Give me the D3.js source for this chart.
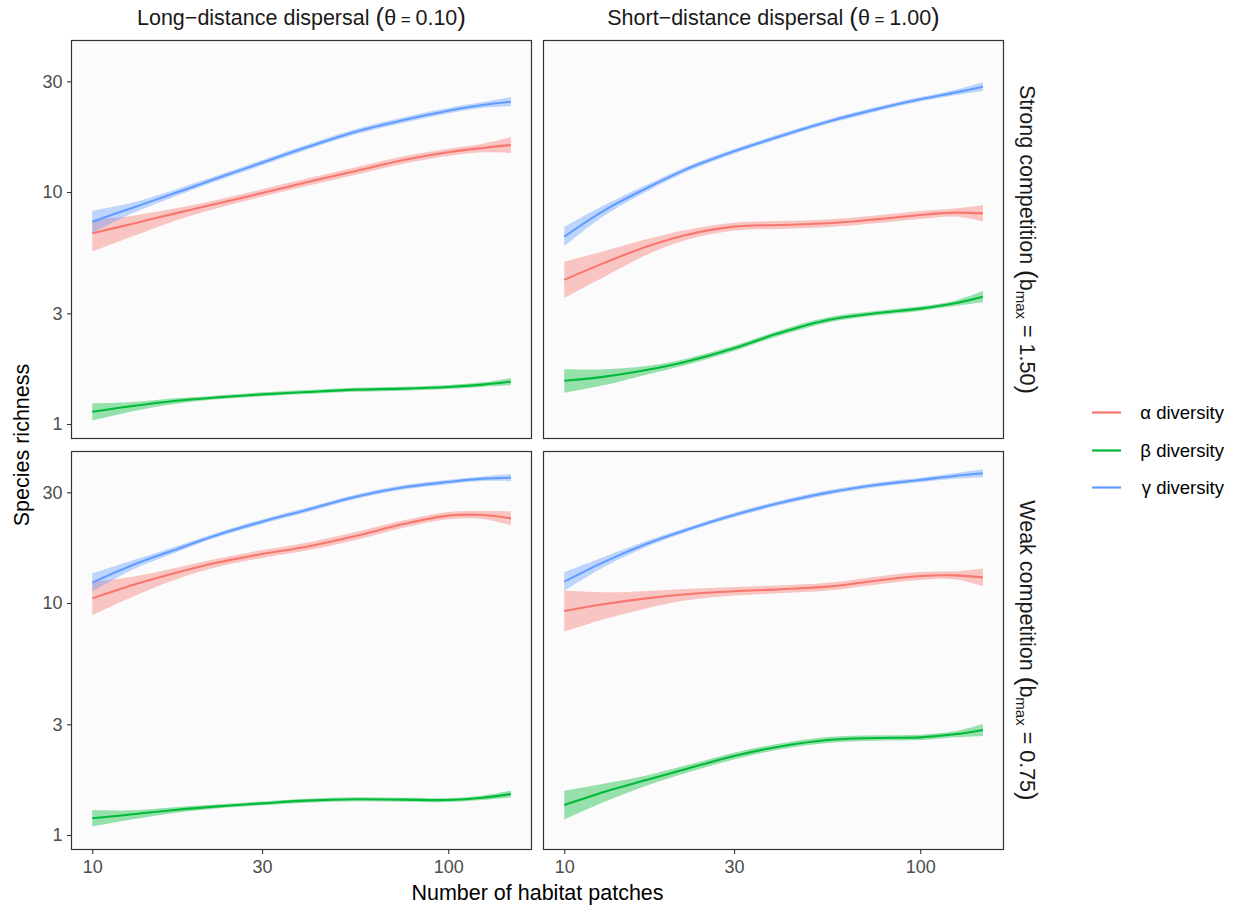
<!DOCTYPE html>
<html>
<head>
<meta charset="utf-8">
<script src="https://cdn.jsdelivr.net/npm/d3@7"></script>
<style>
  html, body { margin: 0; padding: 0; background: #ffffff; }
  svg { display: block; font-family: "Liberation Sans", Arial, Helvetica, sans-serif; }
</style>
</head>
<body>
<svg id="chart" width="1238" height="909"></svg>
<script>
// Number of habitat patches at which the smoothed curves are evaluated
const patches = [10, 13, 17, 22, 30, 40, 55, 75, 100, 125, 150];

// Axis ticks
const xTicks = [10, 30, 100];
const yTicks = [1, 3, 10, 30];

// Facet labels
const dispersalLabels = [
  { pre: "Long\u2212distance dispersal ", sym: "\u03b8", val: "0.10" },
  { pre: "Short\u2212distance dispersal ", sym: "\u03b8", val: "1.00" }
];
const competitionLabels = [
  { pre: "Strong competition ", val: "1.50" },
  { pre: "Weak competition ", val: "0.75" }
];

// Diversity components
const diversityNames = ["\u03b1 diversity", "\u03b2 diversity", "\u03b3 diversity"];
const diversityColors = ["#F8766D", "#00BA38", "#619CFF"];

// Long-distance dispersal, strong competition
const alpha_long_strong    = [6.64, 7.30, 8.07, 8.85, 9.90, 11.01, 12.32, 13.74, 14.83, 15.48, 15.94];
const alpha_long_strong_lo = [5.54, 6.44, 7.50, 8.45, 9.55, 10.62, 11.88, 13.25, 14.30, 14.83, 14.72];
const alpha_long_strong_hi = [7.58, 7.91, 8.48, 9.20, 10.27, 11.42, 12.78, 14.25, 15.38, 16.16, 17.26];
const beta_long_strong     = [1.130, 1.196, 1.256, 1.299, 1.342, 1.374, 1.406, 1.420, 1.444, 1.478, 1.522];
const beta_long_strong_lo  = [1.034, 1.135, 1.219, 1.274, 1.316, 1.347, 1.378, 1.392, 1.416, 1.445, 1.468];
const beta_long_strong_hi  = [1.227, 1.244, 1.290, 1.325, 1.369, 1.401, 1.434, 1.448, 1.473, 1.512, 1.578];
const gamma_long_strong    = [7.45, 8.56, 9.87, 11.34, 13.38, 15.58, 18.20, 20.43, 22.41, 23.71, 24.51];
const gamma_long_strong_lo = [6.68, 8.12, 9.55, 11.04, 13.03, 15.17, 17.72, 19.89, 21.82, 23.02, 23.41];
const gamma_long_strong_hi = [8.31, 9.02, 10.21, 11.65, 13.74, 16.00, 18.69, 20.98, 23.01, 24.42, 25.66];

// Short-distance dispersal, strong competition
const alpha_short_strong    = [4.18, 4.96, 5.81, 6.53, 7.09, 7.21, 7.33, 7.62, 7.96, 8.15, 8.09];
const alpha_short_strong_lo = [3.49, 4.32, 5.35, 6.21, 6.82, 6.93, 7.05, 7.33, 7.65, 7.84, 7.47];
const alpha_short_strong_hi = [5.01, 5.57, 6.25, 6.86, 7.37, 7.50, 7.62, 7.92, 8.28, 8.48, 8.76];
const beta_short_strong     = [1.537, 1.600, 1.709, 1.856, 2.120, 2.459, 2.808, 3.000, 3.143, 3.312, 3.539];
const beta_short_strong_lo  = [1.364, 1.473, 1.632, 1.795, 2.064, 2.394, 2.734, 2.933, 3.072, 3.225, 3.345];
const beta_short_strong_hi  = [1.720, 1.722, 1.777, 1.912, 2.177, 2.525, 2.884, 3.069, 3.215, 3.401, 3.744];
const gamma_short_strong    = [6.42, 8.36, 10.37, 12.52, 14.97, 17.32, 20.10, 22.71, 25.09, 26.81, 28.45];
const gamma_short_strong_lo = [5.83, 7.93, 10.03, 12.19, 14.63, 16.93, 19.65, 22.20, 24.53, 26.11, 27.25];
const gamma_short_strong_hi = [7.07, 8.81, 10.72, 12.86, 15.31, 17.72, 20.56, 23.23, 25.67, 27.53, 29.70];

// Long-distance dispersal, weak competition
const alpha_long_weak    = [10.47, 11.96, 13.43, 14.83, 16.26, 17.49, 19.45, 21.90, 23.80, 23.95, 23.17];
const alpha_long_weak_lo = [8.87, 10.65, 12.57, 14.20, 15.63, 16.82, 18.70, 21.12, 22.95, 23.03, 21.61];
const alpha_long_weak_hi = [12.35, 12.99, 14.12, 15.42, 16.91, 18.19, 20.23, 22.71, 24.68, 24.91, 24.84];
const beta_long_weak     = [1.180, 1.228, 1.282, 1.325, 1.369, 1.406, 1.425, 1.420, 1.415, 1.448, 1.502];
const beta_long_weak_lo  = [1.087, 1.168, 1.245, 1.299, 1.342, 1.378, 1.397, 1.392, 1.387, 1.415, 1.453];
const beta_long_weak_hi  = [1.281, 1.277, 1.317, 1.352, 1.396, 1.434, 1.454, 1.448, 1.443, 1.481, 1.553];
const gamma_long_weak    = [12.24, 14.58, 16.92, 19.45, 22.41, 25.17, 28.73, 31.52, 33.23, 34.35, 34.69];
const gamma_long_weak_lo = [11.20, 13.93, 16.43, 19.01, 21.91, 24.60, 28.08, 30.81, 32.48, 33.58, 33.45];
const gamma_long_weak_hi = [13.38, 15.27, 17.43, 19.90, 22.93, 25.75, 29.39, 32.24, 33.99, 35.14, 35.97];

// Short-distance dispersal, weak competition
const alpha_short_weak    = [9.24, 9.90, 10.47, 10.90, 11.23, 11.45, 11.76, 12.48, 13.07, 13.16, 12.90];
const alpha_short_weak_lo = [7.52, 8.53, 9.48, 10.27, 10.76, 11.01, 11.31, 12.00, 12.57, 12.65, 11.80];
const alpha_short_weak_hi = [11.31, 11.12, 11.27, 11.49, 11.72, 11.91, 12.23, 12.98, 13.59, 13.69, 14.10];
const beta_short_weak     = [1.347, 1.537, 1.726, 1.925, 2.190, 2.403, 2.568, 2.619, 2.636, 2.716, 2.836];
const beta_short_weak_lo  = [1.168, 1.392, 1.631, 1.851, 2.118, 2.333, 2.493, 2.550, 2.567, 2.637, 2.673];
const beta_short_weak_hi  = [1.553, 1.669, 1.807, 1.996, 2.264, 2.475, 2.645, 2.690, 2.707, 2.797, 3.009];
const gamma_short_weak    = [12.36, 15.08, 17.96, 20.64, 23.95, 26.90, 29.90, 32.25, 33.90, 35.27, 36.22];
const gamma_short_weak_lo = [11.27, 14.35, 17.44, 20.18, 23.41, 26.30, 29.23, 31.52, 33.14, 34.34, 34.83];
const gamma_short_weak_hi = [13.56, 15.85, 18.50, 21.11, 24.50, 27.52, 30.59, 32.99, 34.68, 36.22, 37.67];

// Panels: row = competition strength, col = dispersal distance
const panels = [
  { row: 0, col: 0, series: [
      [alpha_long_strong, alpha_long_strong_lo, alpha_long_strong_hi],
      [beta_long_strong, beta_long_strong_lo, beta_long_strong_hi],
      [gamma_long_strong, gamma_long_strong_lo, gamma_long_strong_hi]] },
  { row: 0, col: 1, series: [
      [alpha_short_strong, alpha_short_strong_lo, alpha_short_strong_hi],
      [beta_short_strong, beta_short_strong_lo, beta_short_strong_hi],
      [gamma_short_strong, gamma_short_strong_lo, gamma_short_strong_hi]] },
  { row: 1, col: 0, series: [
      [alpha_long_weak, alpha_long_weak_lo, alpha_long_weak_hi],
      [beta_long_weak, beta_long_weak_lo, beta_long_weak_hi],
      [gamma_long_weak, gamma_long_weak_lo, gamma_long_weak_hi]] },
  { row: 1, col: 1, series: [
      [alpha_short_weak, alpha_short_weak_lo, alpha_short_weak_hi],
      [beta_short_weak, beta_short_weak_lo, beta_short_weak_hi],
      [gamma_short_weak, gamma_short_weak_lo, gamma_short_weak_hi]] }
];

// ---- layout ----
const colX = [71.5, 543.5];
const rowY = [40.5, 451.5];
const panelW = 460;
const panelH = 398;
const tickFont = "18px";
const titleFont = "21.5px";

const svg = d3.select("#chart");

// log scales shared by all panels (panel-local coordinates)
const x = d3.scaleLog().domain([8.744, 171.4]).range([0, panelW]);
const y = d3.scaleLog().domain([0.866, 44.98]).range([panelH, 0]);

const line = d3.line()
  .x(d => x(d.n)).y(d => y(d.v))
  .curve(d3.curveCatmullRom.alpha(0.5));
const area = d3.area()
  .x(d => x(d.n)).y0(d => y(d.lo)).y1(d => y(d.hi))
  .curve(d3.curveCatmullRom.alpha(0.5));

panels.forEach(p => {
  const g = svg.append("g")
    .attr("transform", `translate(${colX[p.col]},${rowY[p.row]})`);

  g.append("rect")
    .attr("width", panelW).attr("height", panelH)
    .attr("fill", "#FBFBFB");

  const clipId = `clip-${p.row}-${p.col}`;
  g.append("clipPath").attr("id", clipId)
    .append("rect").attr("width", panelW).attr("height", panelH);
  const plot = g.append("g").attr("clip-path", `url(#${clipId})`);

  // ribbons first, then lines, in legend order
  p.series.forEach((s, i) => {
    const pts = patches.map((n, k) => ({ n, v: s[0][k], lo: s[1][k], hi: s[2][k] }));
    plot.append("path").datum(pts)
      .attr("d", area)
      .attr("fill", diversityColors[i])
      .attr("fill-opacity", 0.4);
  });
  p.series.forEach((s, i) => {
    const pts = patches.map((n, k) => ({ n, v: s[0][k] }));
    plot.append("path").datum(pts)
      .attr("d", line)
      .attr("fill", "none")
      .attr("stroke", diversityColors[i])
      .attr("stroke-width", 2.1);
  });

  // y axis on left column
  if (p.col === 0) {
    const ya = g.append("g")
      .call(d3.axisLeft(y).tickValues(yTicks).tickFormat(d3.format("d"))
        .tickSize(4.5).tickPadding(4.5));
    ya.select(".domain").remove();
    ya.selectAll(".tick line").attr("stroke", "#333333").attr("stroke-width", 1.1);
    ya.selectAll(".tick text").attr("fill", "#4D4D4D")
      .style("font-size", tickFont).style("font-family", "Liberation Sans, Arial, sans-serif");
  }
  // x axis on bottom row
  if (p.row === 1) {
    const xa = g.append("g").attr("transform", `translate(0,${panelH})`)
      .call(d3.axisBottom(x).tickValues(xTicks).tickFormat(d3.format("d"))
        .tickSize(4.5).tickPadding(6));
    xa.select(".domain").remove();
    xa.selectAll(".tick line").attr("stroke", "#333333").attr("stroke-width", 1.1);
    xa.selectAll(".tick text").attr("fill", "#4D4D4D")
      .style("font-size", tickFont).style("font-family", "Liberation Sans, Arial, sans-serif");
  }

  // panel border
  g.append("rect")
    .attr("width", panelW).attr("height", panelH)
    .attr("fill", "none").attr("stroke", "#333333").attr("stroke-width", 1.2);
});

// ---- top strips (dispersal) ----
dispersalLabels.forEach((lab, c) => {
  const t = svg.append("text")
    .attr("x", colX[c] + panelW / 2).attr("y", 25)
    .attr("text-anchor", "middle")
    .attr("fill", "#1A1A1A")
    .style("font-size", titleFont);
  t.append("tspan").text(lab.pre);
  t.append("tspan").text("(").style("font-size", "26px").attr("dy", 1);
  t.append("tspan").text(lab.sym).attr("dy", -1);
  t.append("tspan").text(" = ").style("font-size", "17px");
  t.append("tspan").text(lab.val);
  t.append("tspan").text(")").style("font-size", "26px").attr("dy", 1);
});

// ---- right strips (competition) ----
competitionLabels.forEach((lab, r) => {
  const cx = 1020, cy = rowY[r] + panelH / 2;
  const t = svg.append("text")
    .attr("transform", `translate(${cx},${cy}) rotate(90)`)
    .attr("text-anchor", "middle")
    .attr("fill", "#1A1A1A")
    .style("font-size", titleFont);
  t.append("tspan").text(lab.pre);
  t.append("tspan").text("(").style("font-size", "26px").attr("dy", 1);
  t.append("tspan").text("b").attr("dy", -1);
  t.append("tspan").text("max").style("font-size", "15px").attr("dy", 4);
  t.append("tspan").text(" = " + lab.val).attr("dy", -4);
  t.append("tspan").text(")").style("font-size", "26px").attr("dy", 1);
});

// ---- axis titles ----
svg.append("text")
  .attr("x", (colX[0] + colX[1] + panelW) / 2).attr("y", 900)
  .attr("text-anchor", "middle").attr("fill", "#000")
  .style("font-size", titleFont)
  .text("Number of habitat patches");

svg.append("text")
  .attr("transform", `translate(29,${(rowY[0] + rowY[1] + panelH) / 2}) rotate(-90)`)
  .attr("text-anchor", "middle").attr("fill", "#000")
  .style("font-size", titleFont)
  .text("Species richness");

// ---- legend ----
const legY = [412.5, 450.5, 487.5];
diversityNames.forEach((name, i) => {
  svg.append("line")
    .attr("x1", 1092).attr("x2", 1121)
    .attr("y1", legY[i]).attr("y2", legY[i])
    .attr("stroke", diversityColors[i])
    .attr("stroke-width", 2.2);
  svg.append("text")
    .attr("x", 1224).attr("y", legY[i])
    .attr("dy", "0.35em")
    .attr("text-anchor", "end")
    .attr("fill", "#000")
    .style("font-size", "18.5px")
    .text(name);
});
</script>
</body>
</html>
